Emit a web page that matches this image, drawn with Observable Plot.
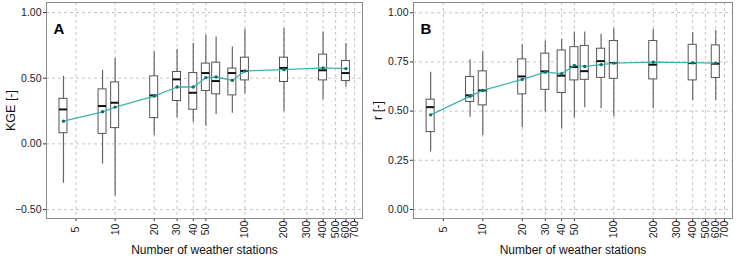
<!DOCTYPE html>
<html>
<head>
<meta charset="utf-8">
<script src="https://cdn.jsdelivr.net/npm/d3@7"></script>
<script src="https://cdn.jsdelivr.net/npm/@observablehq/plot@0.6"></script>
<style>
  html, body { margin: 0; padding: 0; background: #fff; }
  #wrap { display: flex; width: 737px; height: 257px; }
  svg { font-family: "Liberation Sans", Arial, sans-serif; }
</style>
</head>
<body>
<div id="wrap"></div>
<script>
// Number of weather stations (x positions of boxes)
const stations = [4, 8, 10, 20, 30, 40, 50, 60, 80, 100, 200, 400, 600];
const xTicks = [5, 10, 20, 30, 40, 50, 100, 200, 300, 400, 500, 600, 700];
const xLabel = "Number of weather stations";

// Panel A: KGE
const kgeMin    = [-0.30, -0.153, -0.394, 0.064, 0.198, 0.165, 0.135, 0.224, 0.234, 0.382, 0.247, 0.338, 0.433];
const kgeQ1     = [0.081, 0.076, 0.120, 0.196, 0.326, 0.260, 0.402, 0.377, 0.369, 0.483, 0.471, 0.483, 0.478];
const kgeMedian = [0.262, 0.288, 0.313, 0.369, 0.491, 0.389, 0.539, 0.478, 0.539, 0.555, 0.578, 0.560, 0.539];
const kgeQ3     = [0.343, 0.415, 0.468, 0.514, 0.547, 0.539, 0.611, 0.618, 0.573, 0.656, 0.656, 0.679, 0.631];
const kgeMax    = [0.514, 0.560, 0.649, 0.700, 0.718, 0.763, 0.827, 0.814, 0.738, 0.870, 0.878, 0.852, 0.763];
const kgeMean   = [0.173, 0.244, 0.280, 0.364, 0.433, 0.433, 0.504, 0.509, 0.483, 0.555, 0.565, 0.578, 0.573];
const kgeTicks  = [-0.5, 0, 0.5, 1];

// Panel B: r
const rMin    = [0.292, 0.469, 0.376, 0.415, 0.495, 0.410, 0.466, 0.517, 0.512, 0.473, 0.512, 0.554, 0.554];
const rQ1     = [0.393, 0.546, 0.529, 0.585, 0.608, 0.592, 0.656, 0.659, 0.669, 0.664, 0.661, 0.656, 0.668];
const rMedian = [0.520, 0.580, 0.605, 0.676, 0.702, 0.680, 0.724, 0.703, 0.754, 0.744, 0.736, 0.744, 0.741];
const rQ3     = [0.558, 0.673, 0.702, 0.763, 0.792, 0.808, 0.825, 0.831, 0.817, 0.856, 0.856, 0.837, 0.834];
const rMax    = [0.698, 0.761, 0.800, 0.837, 0.856, 0.864, 0.902, 0.902, 0.890, 0.919, 0.915, 0.898, 0.910];
const rMean   = [0.481, 0.576, 0.605, 0.661, 0.698, 0.690, 0.732, 0.727, 0.736, 0.744, 0.749, 0.746, 0.744];
const rTicks  = [0, 0.25, 0.5, 0.75, 1];

function table(mn, q1, md, q3, mx, mean) {
  return stations.map((x, i) => ({x, min: mn[i], q1: q1[i], median: md[i], q3: q3[i], max: mx[i], mean: mean[i]}));
}

const half = Math.pow(10, 4 / 130); // box half-width factor (log space)
const grid = {stroke: "#c4c4c4", strokeOpacity: 1, strokeDasharray: "3,3", strokeWidth: 1};

function panel({data, yDomain, yTicks, yLabel, letter, width, marginLeft, marginRight}) {
  return Plot.plot({
    width, height: 257,
    marginLeft, marginRight, marginTop: 2, marginBottom: 39,
    style: {fontFamily: "Liberation Sans, Arial, sans-serif", fontSize: "10.5px", color: "#222", background: "#fff"},
    x: {type: "log", domain: [2.96, 805]},
    y: {domain: yDomain},
    marks: [
      Plot.gridX(xTicks, grid),
      Plot.gridY(yTicks, grid),
      Plot.axisY({ticks: yTicks, tickFormat: d3.format(".2f"), tickSize: 3, tickPadding: 2, label: null, fontSize: 10.5, stroke: "#333"}),
      Plot.axisX({ticks: xTicks, tickSize: 3, tickFormat: () => "", label: null, stroke: "#333"}),
      Plot.text(xTicks, {x: d => d, text: d => String(d), frameAnchor: "bottom", dy: 11, rotate: -90, textAnchor: "middle", lineAnchor: "middle", fontSize: 10.5, fill: "#222"}),
      Plot.text([xLabel], {frameAnchor: "bottom", dy: 35, lineAnchor: "bottom", fontSize: 12, fill: "#111"}),
      Plot.text([yLabel], {frameAnchor: "left", dx: -36, rotate: -90, textAnchor: "middle", lineAnchor: "middle", fontSize: 12.5, fill: "#111"}),
      Plot.ruleX(data, {x: "x", y1: "min", y2: "max", stroke: "#666", strokeWidth: 1.2}),
      Plot.rect(data, {x1: d => d.x / half, x2: d => d.x * half, y1: "q1", y2: "q3", fill: "white", stroke: "#555", strokeWidth: 1}),
      Plot.ruleY(data, {y: "median", x1: d => d.x / half, x2: d => d.x * half, stroke: "#111", strokeWidth: 2}),
      Plot.line(data, {x: "x", y: "mean", stroke: "#40b2ab", strokeWidth: 1.3}),
      Plot.dot(data, {x: "x", y: "mean", r: 1.7, fill: "#0f6f69", stroke: "none"}),
      Plot.frame({stroke: "#8a8a8a", strokeWidth: 1}),
      Plot.text([letter], {frameAnchor: "top-left", dx: 7, dy: 31, lineAnchor: "bottom", textAnchor: "start", fontSize: 15, fontWeight: "bold", fill: "#000"})
    ]
  });
}

const wrap = document.getElementById("wrap");
wrap.appendChild(panel({
  data: table(kgeMin, kgeQ1, kgeMedian, kgeQ3, kgeMax, kgeMean),
  yDomain: [-0.568, 1.076], yTicks: kgeTicks, yLabel: "KGE [-]", letter: "A",
  width: 367, marginLeft: 46, marginRight: 5
}));
wrap.appendChild(panel({
  data: table(rMin, rQ1, rMedian, rQ3, rMax, rMean),
  yDomain: [-0.046, 1.052], yTicks: rTicks, yLabel: "r [-]", letter: "B",
  width: 370, marginLeft: 46, marginRight: 5
}));
</script>
</body>
</html>
